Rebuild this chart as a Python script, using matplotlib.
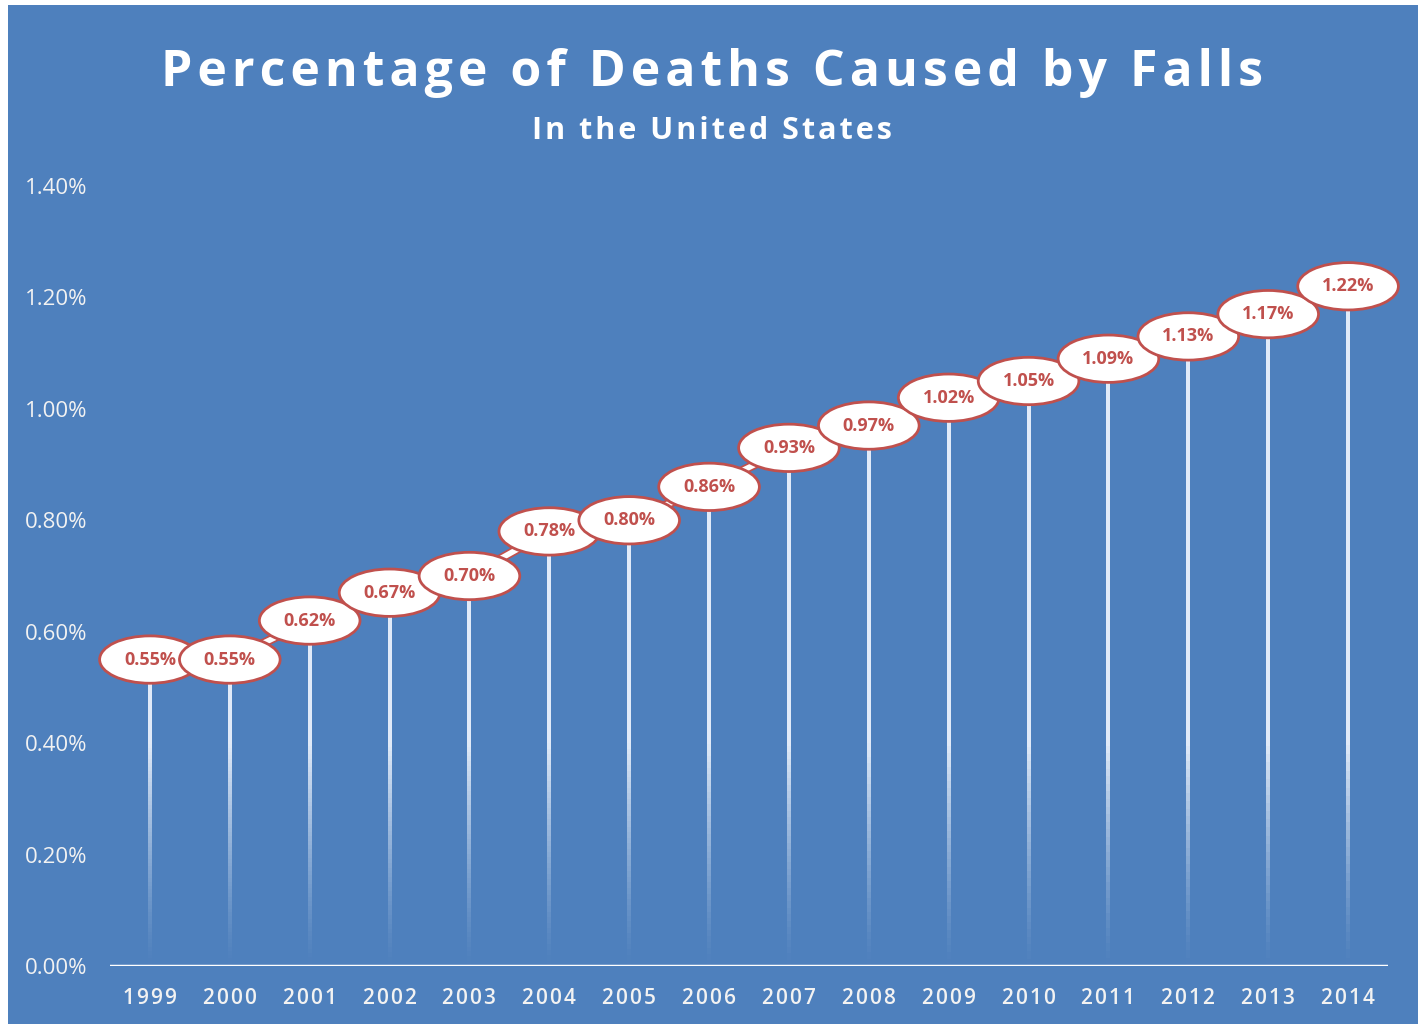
import matplotlib
matplotlib.use("Agg")
import matplotlib.pyplot as plt
import matplotlib.patheffects as pe
from matplotlib.patches import Ellipse, Rectangle
from matplotlib.collections import LineCollection
import numpy as np

plt.rcParams["font.family"] = ["Open Sans", "DejaVu Sans"]

## DATA
years = ["1999", "2000", "2001", "2002", "2003", "2004", "2005", "2006",
         "2007", "2008", "2009", "2010", "2011", "2012", "2013", "2014"]
pct = [0.55, 0.55, 0.62, 0.67, 0.70, 0.78, 0.80, 0.86,
       0.93, 0.97, 1.02, 1.05, 1.09, 1.13, 1.17, 1.22]
yticks = [0.0, 0.2, 0.4, 0.6, 0.8, 1.0, 1.2, 1.4]

BLUE = "#4E80BD"
RED = "#C0504D"


def spaced(s, sp="\u200a"):
    return sp.join(s)


fig = plt.figure(figsize=(14.26, 10.24), dpi=100)
fig.patch.set_facecolor("white")
fig.patches.append(Rectangle((8 / 1426, 0), 1410 / 1426, 1 - 5 / 1024,
                             transform=fig.transFigure, facecolor=BLUE,
                             edgecolor="none", zorder=-10))

ax = fig.add_axes([110 / 1426, 58 / 1024, 1278 / 1426, 780 / 1024])
ax.set_facecolor("none")
x = np.arange(len(years))
ax.set_xlim(-0.5, len(years) - 0.5)
ax.set_ylim(0, 1.4)

# drop lines, fading towards the axis
n = 80
for xi, v in zip(x, pct):
    ys = np.linspace(0, v, n + 1)
    segs = [[(xi, ys[i]), (xi, ys[i + 1])] for i in range(n)]
    mid = (ys[:-1] + ys[1:]) / 2
    alphas = np.clip(mid / 0.4, 0.03, 1) ** 1.3 * 0.9
    cols = [(0.95, 0.97, 1, a) for a in alphas]
    ax.add_collection(LineCollection(segs, colors=cols, linewidths=1.5,
                                     antialiaseds=False, zorder=2))

# connecting line
ax.plot(x, pct, color="white", lw=4, zorder=3,
        path_effects=[pe.Stroke(linewidth=6.5, foreground=RED), pe.Normal()])

# label bubbles
for xi, v in zip(x, pct):
    ax.add_patch(Ellipse((xi, v), 1.26, 0.085, facecolor="white",
                         edgecolor=RED, lw=2, zorder=4, clip_on=False))
    ax.text(xi, v, f"{v:.2f}%", color=RED, fontsize=13, fontweight="bold",
            ha="center", va="center", zorder=5)

# x axis line
ax.axhline(0, color="white", lw=2.5, zorder=3)
for s in ax.spines.values():
    s.set_visible(False)

ax.set_xticks(x)
ax.set_xticklabels([spaced(y) for y in years], color="#F2F2F2",
                   fontsize=15, fontweight="semibold")
ax.set_yticks(yticks)
ax.set_yticklabels([f"{t:.2f}%" for t in yticks], color="#F2F2F2", fontsize=16)
ax.tick_params(axis="x", length=0, pad=16)
ax.tick_params(axis="y", length=0, pad=16)

fig.text(0.499, 0.929, spaced("Percentage of Deaths Caused by Falls"), color="white",
         fontsize=36, fontweight="bold", ha="center", va="center")
fig.text(0.499, 0.872, spaced("In the United States"), color="white",
         fontsize=22, fontweight="bold", ha="center", va="center")

fig.savefig("out.png", dpi=100, facecolor=fig.get_facecolor())
